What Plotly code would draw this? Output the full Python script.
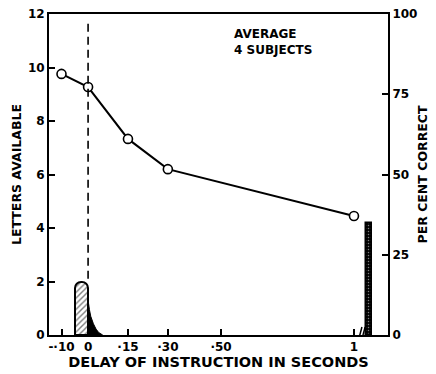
import plotly.graph_objects as go

# Data
delay_s = [-0.10, 0.0, 0.15, 0.30, 1.0]
letters_available = [9.76, 9.27, 7.33, 6.2, 4.45]

x_tickvals = [-0.10, 0.0, 0.15, 0.30, 0.50, 1.0]
x_ticktext = ["-·10", "0", "·15", "·30", "·50", "1"]
y_left_ticks = [0, 2, 4, 6, 8, 10, 12]
y_right_ticks = [0, 25, 50, 75, 100]

# stimulus exposure (hatched) and its decay tail
exposure_start, exposure_end, exposure_height = -0.05, 0.0, 2.0
tail_x = [0.0, 0.0, 0.005, 0.01, 0.02, 0.03, 0.04, 0.055]
tail_y = [0.0, 1.3, 0.95, 0.7, 0.42, 0.22, 0.09, 0.0]

# no-instruction (whole report) bar, plotted beyond axis break
whole_report_x = 1.056
whole_report_letters = 4.2

instruction_onset = 0.0
axis_break_x = 1.022

FAM = "DejaVu Sans"
font = dict(family=FAM, size=12, color="black", weight="bold")

fig = go.Figure()

fig.add_trace(go.Scatter(x=tail_x, y=tail_y, mode="lines", fill="toself",
                         fillcolor="black", line=dict(color="black", width=1),
                         hoverinfo="skip", showlegend=False))
fig.add_trace(go.Bar(x=[(exposure_start + exposure_end) / 2], y=[exposure_height],
                     width=[exposure_end - exposure_start],
                     marker=dict(color="white", cornerradius=6,
                                 line=dict(color="black", width=2),
                                 pattern=dict(shape="/", fgcolor="black", size=4, solidity=0.35)),
                     showlegend=False))
fig.add_trace(go.Bar(x=[whole_report_x], y=[whole_report_letters], width=[0.022],
                     marker=dict(color="black", line=dict(color="black", width=1.5),
                                 pattern=dict(shape=".", fgcolor="white", bgcolor="black", size=3, solidity=0.2)),
                     showlegend=False))
fig.add_trace(go.Scatter(x=delay_s, y=letters_available, mode="lines+markers",
                         line=dict(color="black", width=2),
                         marker=dict(symbol="circle", size=9, color="white",
                                     line=dict(color="black", width=1.6)),
                         showlegend=False))
# invisible trace for right axis
fig.add_trace(go.Scatter(x=[None], y=[None], yaxis="y2", showlegend=False))

fig.add_shape(type="line", x0=instruction_onset, x1=instruction_onset, y0=2.1, y1=11.8,
              line=dict(color="black", width=1.6, dash="8px,5px"))

# axis break marks
for dx in (0.0, 0.012):
    fig.add_shape(type="line", x0=axis_break_x + dx - 0.008, x1=axis_break_x + dx + 0.008,
                  y0=-0.3, y1=0.3, line=dict(color="black", width=1.5))

fig.add_annotation(x=0.54, y=11.6, xref="x", yref="y", text="AVERAGE<br>4 SUBJECTS",
                   showarrow=False, xanchor="left", yanchor="top", align="left",
                   font=dict(family=FAM, size=12, color="black", weight="bold"))

axis_common = dict(ticks="inside", ticklen=6, tickwidth=1.5, tickcolor="black",
                   showline=True, linecolor="black", linewidth=2, showgrid=False,
                   zeroline=False, automargin=False)

fig.update_layout(
    width=436, height=374,
    margin=dict(l=49, r=48, t=14, b=39),
    paper_bgcolor="white", plot_bgcolor="white",
    font=font,
    bargap=0,
    xaxis=dict(range=[-0.147, 1.128], tickvals=x_tickvals, ticktext=x_ticktext,
               mirror=True, ticklabelstandoff=0,
               title=dict(text="DELAY OF INSTRUCTION IN SECONDS", standoff=0,
                          font=dict(size=14.5)),
               **axis_common),
    yaxis=dict(range=[0, 12], tickvals=y_left_ticks,
               title=dict(text="LETTERS AVAILABLE", standoff=4, font=dict(size=12.5)),
               **axis_common),
    yaxis2=dict(range=[0, 100], tickvals=y_right_ticks, overlaying="y", side="right",
                title=dict(text="PER CENT CORRECT", standoff=2, font=dict(size=12.5)),
                **axis_common),
)

fig.write_html("out.html")
